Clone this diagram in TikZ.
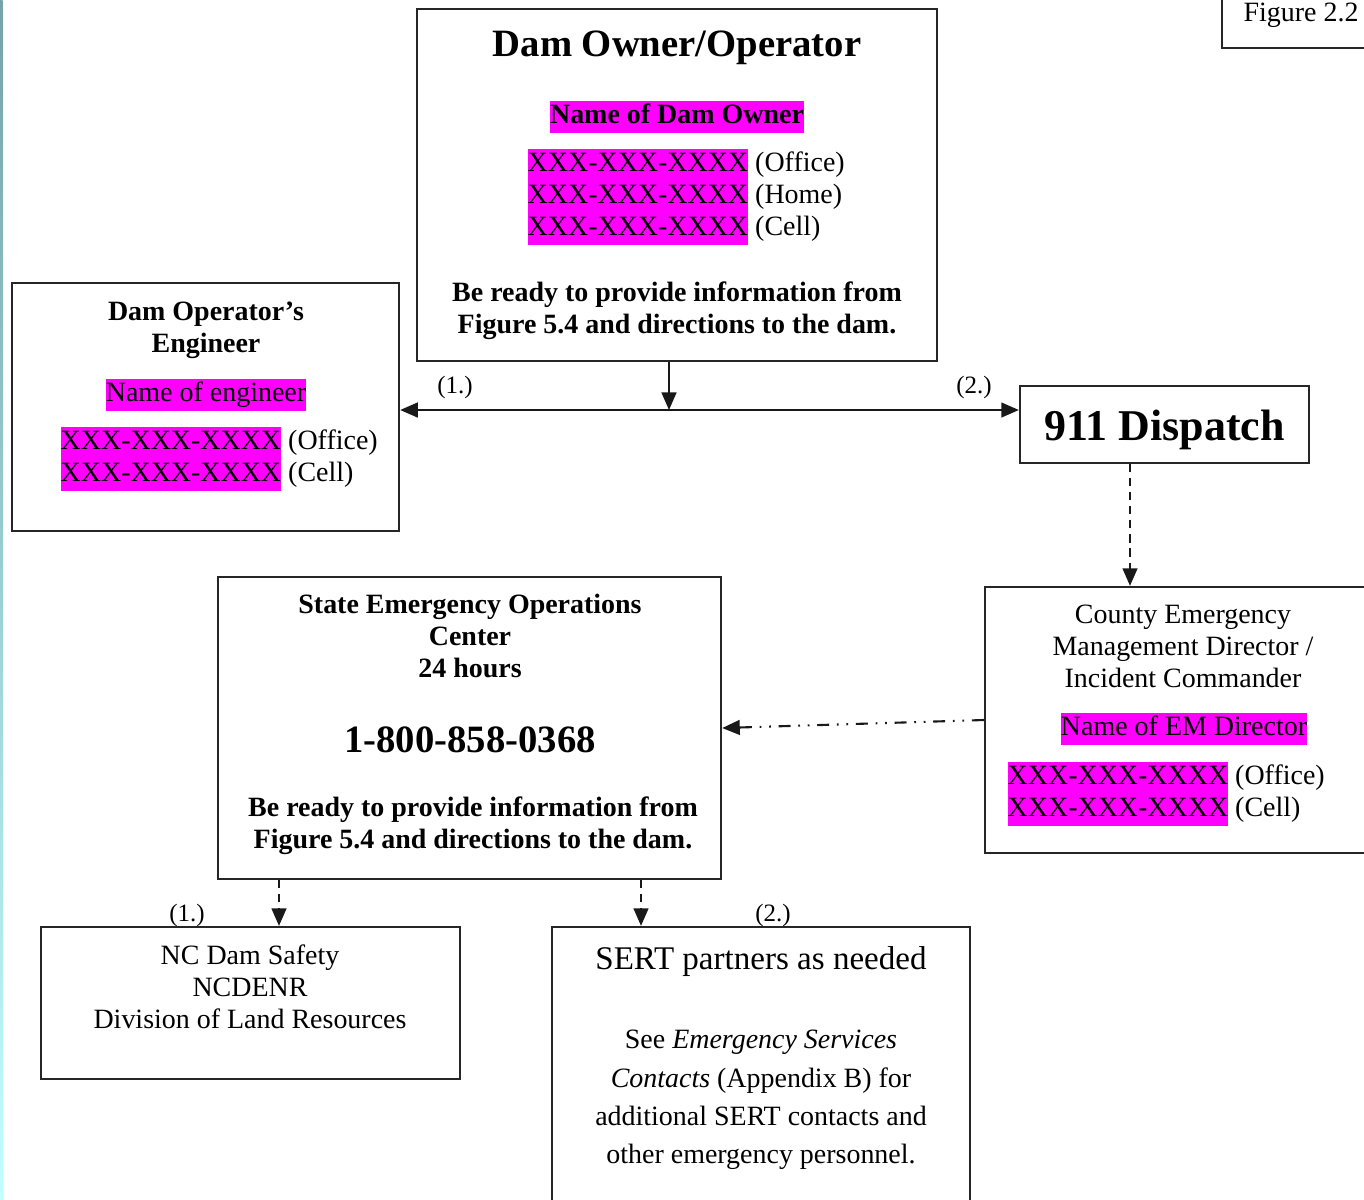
\documentclass[tikz,border=0pt]{standalone}
\usepackage{fontspec}
\setmainfont{Liberation Serif}
\usetikzlibrary{arrows.meta}

\definecolor{hlmag}{RGB}{255,0,255}
% magenta highlight that fills the whole line height
\newcommand\hlite[1]{{\setlength{\fboxsep}{0pt}\colorbox{hlmag}{\strut#1}}}

\begin{document}
\begin{tikzpicture}[x=0.01cm,y=-0.01cm,
  frame/.style={draw=black!85, line width=0.6pt, inner sep=0pt},
  tnode/.style={inner sep=0pt, yshift=-0.9pt},
  txt/.style={tnode, align=center, font=\fontsize{7.95}{9.1}\selectfont},
  btxt/.style={tnode, align=center, font=\fontsize{7.95}{9.1}\selectfont\bfseries},
  lbl/.style={tnode, font=\fontsize{7.1}{8}\selectfont},
  tip/.style={-{Triangle[length=5pt,width=4.2pt]}},
  conn/.style={line width=0.6pt, black!90, tip},
  dashconn/.style={conn, dash pattern=on 2.3pt off 1.7pt},
  ddconn/.style={conn, dash pattern=on 3.4pt off 2.2pt on 0.5pt off 2.2pt on 0.5pt off 2.2pt},
]
\useasboundingbox (0,0) rectangle (1364,1199);
\clip (0,0) rectangle (1364,1199);

% thin coloured strip along the left edge
\shade[top color={rgb,255:red,118;green,163;blue,168}, bottom color={rgb,255:red,192;green,255;blue,255}]
  (0,0) rectangle (2.5,1199);

% ---- boxes ----
\node[frame, minimum width=5.20cm, minimum height=3.52cm] (owner)  at (677,185) {};
\node[frame, minimum width=3.87cm, minimum height=2.48cm] (eng)    at (205.5,407) {};
\node[frame, minimum width=2.89cm, minimum height=0.77cm] (disp)   at (1164.5,424.5) {};
\node[frame, minimum width=5.03cm, minimum height=3.02cm] (seoc)   at (469.5,728) {};
\node[frame, minimum width=3.95cm, minimum height=2.66cm] (county) at (1182.5,720) {};
\node[frame, minimum width=4.19cm, minimum height=1.52cm] (ncd)    at (250.5,1003) {};
\node[frame, minimum width=4.18cm, minimum height=2.88cm] (sert)   at (761,1071) {};
\node[frame, minimum width=1.58cm, minimum height=0.68cm] (figbox) at (1301,14) {};

% ---- Dam Owner/Operator ----
\node[tnode, font=\fontsize{11}{13}\selectfont\bfseries] (ownerT) at (677,45) {Dam Owner/Operator};
\node[btxt] (ownerN) at (677,114) {\hlite{Name of Dam Owner}};
\node[txt, anchor=west] (ownerP1) at (527,162) {\hlite{XXX-XXX-XXXX} (Office)};
\node[txt, anchor=west] (ownerP2) at (527,194) {\hlite{XXX-XXX-XXXX} (Home)};
\node[txt, anchor=west] (ownerP3) at (527,226) {\hlite{XXX-XXX-XXXX} (Cell)};
\node[btxt] (ownerR) at (677,308) {Be ready to provide information from\\Figure 5.4 and directions to the dam.};

% ---- Dam Operator's Engineer ----
\node[btxt] (engT) at (206,327) {Dam Operator’s\\Engineer};
\node[txt] (engN) at (206,392) {\hlite{Name of engineer}};
\node[txt, anchor=west] (engP1) at (60,440) {\hlite{XXX-XXX-XXXX} (Office)};
\node[txt, anchor=west] (engP2) at (60,472) {\hlite{XXX-XXX-XXXX} (Cell)};

% ---- 911 Dispatch ----
\node[tnode, font=\fontsize{12.5}{14}\selectfont\bfseries] (dispT) at (1164.5,427) {911 Dispatch};

% ---- State EOC ----
\node[btxt] (seocT) at (470,633) {State Emergency Operations\\Center\\24 hours};
\node[tnode, font=\fontsize{11}{13}\selectfont\bfseries] (seocN) at (470,737) {1-800-858-0368};
\node[btxt] (seocR) at (473,823) {Be ready to provide information from\\Figure 5.4 and directions to the dam.};

% ---- County EM Director ----
\node[txt] (countyT) at (1183,643) {County Emergency\\Management Director /\\Incident Commander};
\node[txt] (countyN) at (1184,726) {\hlite{Name of EM Director}};
\node[txt, anchor=west] (countyP1) at (1007,775) {\hlite{XXX-XXX-XXXX} (Office)};
\node[txt, anchor=west] (countyP2) at (1007,807) {\hlite{XXX-XXX-XXXX} (Cell)};

% ---- NC Dam Safety ----
\node[txt] (ncdT) at (250,984) {NC Dam Safety\\NCDENR\\Division of Land Resources};

% ---- SERT ----
\node[tnode, font=\fontsize{9.4}{11}\selectfont] (sertT) at (761,958) {SERT partners as needed};
\node[txt, font=\fontsize{7.95}{10.9}\selectfont] (sertR) at (761,1097)
  {See \textit{Emergency Services}\\\textit{Contacts} (Appendix B) for\\additional SERT contacts and\\other emergency personnel.};

% ---- figure tag ----
\node[txt] (figT) at (1301,12) {Figure 2.2};

% ---- connectors ----
\coordinate (mid) at (669,410);
\draw[conn] (owner.south -| mid) -- (mid);
\draw[line width=0.6pt, black!90, {Triangle[length=5pt,width=4.2pt]}-{Triangle[length=5pt,width=4.2pt]}]
  (eng.east |- mid) -- (disp.west |- mid);
\node[lbl] (l1) at (455,384) {(1.)};
\node[lbl] (l2) at (974,384) {(2.)};

\coordinate (dcol) at (1130,0);
\draw[dashconn] (disp.south -| dcol) -- (county.north -| dcol);

\draw[ddconn] (county.west) -- (seoc.east);

\coordinate (lcol) at (279,0);
\coordinate (rcol) at (641,0);
\draw[dashconn] (seoc.south -| lcol) -- (ncd.north -| lcol);
\draw[dashconn] (seoc.south -| rcol) -- (sert.north -| rcol);
\node[lbl] (l3) at (187,912) {(1.)};
\node[lbl] (l4) at (773,912) {(2.)};
\end{tikzpicture}
\end{document}
